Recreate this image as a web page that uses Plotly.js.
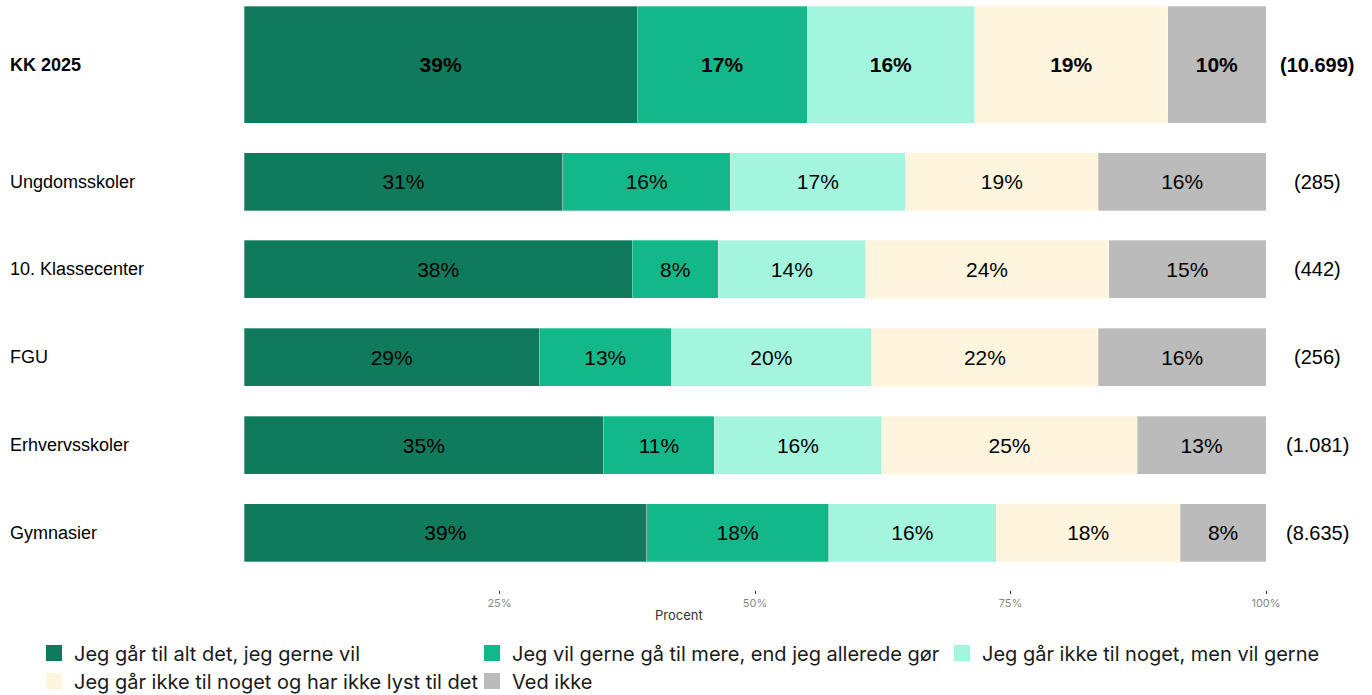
<!DOCTYPE html>
<html>
<head>
<meta charset="utf-8">
<script src="https://cdn.plot.ly/plotly-3.0.1.min.js"></script>
<style>html,body{margin:0;padding:0;background:#fff;}#chart{width:1372px;height:695px;}</style>
</head>
<body>
<div id="chart"></div>
<script>
// Row categories (top to bottom)
const categories = ["KK 2025", "Ungdomsskoler", "10. Klassecenter", "FGU", "Erhvervsskoler", "Gymnasier"];
const counts = ["(10.699)", "(285)", "(442)", "(256)", "(1.081)", "(8.635)"];
const seriesNames = [
  "Jeg går til alt det, jeg gerne vil",
  "Jeg vil gerne gå til mere, end jeg allerede gør",
  "Jeg går ikke til noget, men vil gerne",
  "Jeg går ikke til noget og har ikke lyst til det",
  "Ved ikke"
];
// Percent values per series, in category order
const s1 = [38.5, 31.2, 38.0, 28.9, 35.2, 39.4];
const s2 = [16.6, 16.4, 8.4, 12.9, 10.8, 17.8];
const s3 = [16.4, 17.1, 14.4, 19.6, 16.4, 16.4];
const s4 = [18.9, 18.9, 23.8, 22.2, 25.0, 18.0];
const s5 = [9.6, 16.4, 15.4, 16.4, 12.6, 8.4];
const tickVals = [25, 50, 75, 100];
const tickLabels = ["25%", "50%", "75%", "100%"];
const axisTitle = "Procent";

const colors = ["#0F7B5C", "#13B88A", "#A4F5DE", "#FFF5DC", "#BBBBBB"];
const series = [s1, s2, s3, s4, s5];

// row positions: summary row is larger
const yPos = [5.33, 4, 3, 2, 1, 0];
const widths = [1.33, 0.66, 0.66, 0.66, 0.66, 0.66];

const traces = [];
series.forEach((vals, i) => {
  traces.push({
    type: 'bar',
    orientation: 'h',
    x: vals,
    y: yPos,
    width: widths,
    name: seriesNames[i],
    showlegend: false,
    marker: {color: colors[i], line: {color: 'rgba(255,255,255,0.6)', width: 0.5}},
    text: vals.map((v, k) => k === 0 ? '<b>' + Math.round(v) + '%</b>' : Math.round(v) + '%'),
    textposition: 'inside',
    insidetextanchor: 'middle',
    textangle: 0,
    constraintext: 'none',
    insidetextfont: {family: 'Liberation Sans, Arial, sans-serif', size: 21, color: '#000'},
    hoverinfo: 'skip'
  });
});

// legend entries (one legend per slot)
const legendIds = ['legend', 'legend2', 'legend3', 'legend4', 'legend5'];
series.forEach((vals, i) => {
  traces.push({
    type: 'scatter',
    mode: 'markers',
    x: [null], y: [null],
    name: seriesNames[i],
    legend: legendIds[i],
    marker: {symbol: 'square', size: 16, color: colors[i], line: {width: 0}},
    hoverinfo: 'skip'
  });
});

const annotations = [];
categories.forEach((c, k) => {
  annotations.push({
    xref: 'paper', yref: 'y', x: -0.231, y: yPos[k], xanchor: 'left', yanchor: 'middle',
    text: k === 0 ? '<b>' + c + '</b>' : c, showarrow: false,
    font: {family: 'Liberation Sans, Arial, sans-serif', size: 18, color: '#000'}
  });
  annotations.push({
    xref: 'paper', yref: 'y', x: 1.05, y: yPos[k], xanchor: 'center', yanchor: 'middle',
    text: k === 0 ? '<b>' + counts[k] + '</b>' : counts[k], showarrow: false,
    font: {family: 'Liberation Sans, Arial, sans-serif', size: 20, color: '#000'}
  });
});
annotations.push({
  xref: 'paper', yref: 'paper', x: 0.4256, y: -0.0428, xanchor: 'center', yanchor: 'middle',
  text: axisTitle, showarrow: false,
  font: {family: 'Inter, sans-serif', size: 13, color: '#333'}
});

const legendFont = {family: 'Inter, sans-serif', size: 20, color: '#1a1a1a'};
const legendPos = [[34, 653], [472, 653], [942, 653], [34, 681], [472, 681]];
const layout = {
  width: 1372, height: 695,
  margin: {l: 244, r: 106, t: 6, b: 105},
  paper_bgcolor: '#fff', plot_bgcolor: '#fff',
  barmode: 'stack',
  bargap: 0,
  xaxis: {
    range: [0, 100], tickvals: tickVals, ticktext: tickLabels,
    showgrid: false, zeroline: false, showline: false,
    ticks: 'outside', ticklen: 3, tickwidth: 1, tickcolor: '#333',
    tickfont: {family: 'Inter, sans-serif', size: 11, color: '#888'},
    fixedrange: true
  },
  yaxis: {
    range: [-0.65, 6.0], showgrid: false, zeroline: false, showline: false,
    showticklabels: false, ticks: '', fixedrange: true
  },
  annotations: annotations,
  showlegend: true
};
legendIds.forEach((id, i) => {
  layout[id] = {
    xref: 'container', yref: 'container',
    x: legendPos[i][0] / 1372, y: 1 - legendPos[i][1] / 695,
    xanchor: 'left', yanchor: 'middle',
    orientation: 'h', font: legendFont, bgcolor: 'rgba(0,0,0,0)',
    itemclick: false, itemdoubleclick: false
  };
});

Plotly.newPlot('chart', traces, layout, {displayModeBar: false, staticPlot: true});
</script>
</body>
</html>
